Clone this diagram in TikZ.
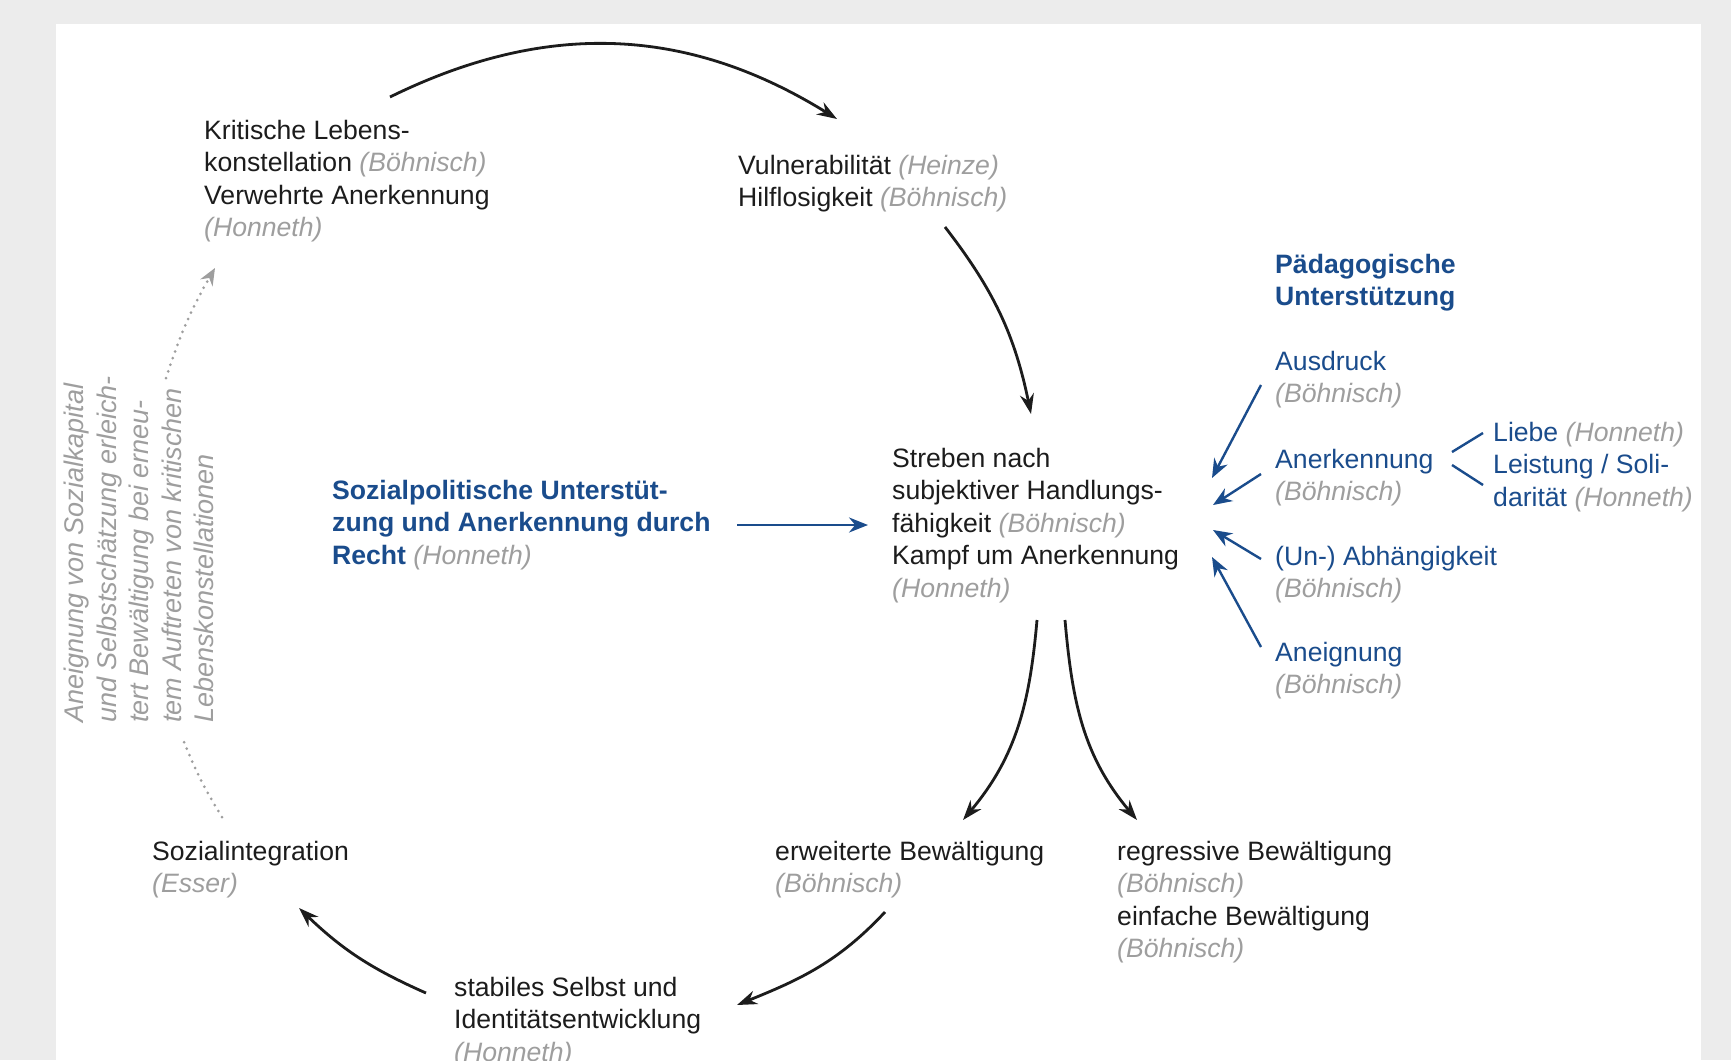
\documentclass[tikz,border=0pt]{standalone}
\usepackage{fontspec}
\setmainfont{Liberation Sans}
\usetikzlibrary{arrows.meta}
\definecolor{pagegray}{RGB}{236,236,236}
\definecolor{citegray}{RGB}{158,158,158}
\definecolor{txtblack}{RGB}{28,28,28}
\definecolor{ubblue}{RGB}{26,76,140}
\newcommand{\src}[1]{{\normalfont\itshape\color{citegray}#1}}
\begin{document}
\begin{tikzpicture}[x=1pt,y=1pt]
        \tikzstyle{txtbox}=[anchor=north west,inner sep=0pt,align=left,text=txtblack,font=\fontsize{26.6}{32.5}\selectfont,execute at begin node=\strut]
        \tikzstyle{bluebox}=[txtbox,text=ubblue]
        \tikzstyle{boldbox}=[txtbox,text=ubblue,font=\fontsize{26.6}{32.5}\selectfont\bfseries]
        \tikzstyle{sidebox}=[anchor=north west,inner sep=0pt,align=left,rotate=90,text=citegray,font=\fontsize{27}{32.5}\selectfont\itshape,execute at begin node=\strut]
        \tikzstyle{cyclearr}=[draw=txtblack,line width=2.8pt,-{Stealth[length=20pt,width=14pt]}]
        \tikzstyle{bluearr}=[draw=ubblue,line width=2.4pt,-{Stealth[length=19pt,width=15pt]}]
        \tikzstyle{bluefork}=[draw=ubblue,line width=2.4pt]
        \tikzstyle{backarr}=[draw=citegray,line width=3pt,line cap=round,dash pattern=on 0pt off 7pt,-{Stealth[length=17pt,width=14pt]}]
        \useasboundingbox (0,0) rectangle (1731,-1060);
        \fill[pagegray] (0,0) rectangle (1731,-1060);
        \fill[white] (56,-24) rectangle (1701,-1060);
        \begin{scope}
                \node [txtbox] (krit) at (204,-120) {Kritische Lebens-\\konstellation \src{(Böhnisch)}\\Verwehrte Anerkennung\\\src{(Honneth)}};
                \node [txtbox] (vuln) at (738,-155) {Vulnerabilität \src{(Heinze)}\\Hilflosigkeit \src{(Böhnisch)}};
                \node [boldbox] (paed) at (1275,-254) {Pädagogische\\Unterstützung};
                \node [bluebox] (ausd) at (1275,-351) {Ausdruck\\\src{(Böhnisch)}};
                \node [bluebox] (anerk) at (1275,-449) {Anerkennung\\\src{(Böhnisch)}};
                \node [bluebox] (liebe) at (1493,-422) {Liebe \src{(Honneth)}\\Leistung / Soli-\\darität \src{(Honneth)}};
                \node [bluebox] (abh) at (1275,-546) {(Un-) Abhängigkeit\\\src{(Böhnisch)}};
                \node [bluebox] (aneig) at (1275,-642) {Aneignung\\\src{(Böhnisch)}};
                \node [txtbox] (streb) at (892,-448) {Streben nach\\subjektiver Handlungs-\\fähigkeit \src{(Böhnisch)}\\Kampf um Anerkennung\\\src{(Honneth)}};
                \node [boldbox] (sozpol) at (332,-480) {Sozialpolitische Unterstüt-\\zung und Anerkennung durch\\Recht \src{(Honneth)}};
                \node [txtbox] (sozint) at (152,-841) {Sozialintegration\\\src{(Esser)}};
                \node [txtbox] (erw) at (775,-841) {erweiterte Bewältigung\\\src{(Böhnisch)}};
                \node [txtbox] (regr) at (1117,-841) {regressive Bewältigung\\\src{(Böhnisch)}\\einfache Bewältigung\\\src{(Böhnisch)}};
                \node [txtbox] (stab) at (454,-977) {stabiles Selbst und\\Identitätsentwicklung\\\src{(Honneth)}};
                \node [sidebox] (side) at (64,-723) {Aneignung von Sozialkapital\\und Selbstschätzung erleich-\\tert Bewältigung bei erneu-\\tem Auftreten von kritischen\\Lebenskonstellationen};

                \path[cyclearr] ([xshift=186pt,yshift=23pt]krit.north west) to[bend left=29] ([xshift=99pt,yshift=36pt]vuln.north west);
                \path[cyclearr] ([xshift=207pt,yshift=-72pt]vuln.north west) to[bend left=13] ([xshift=139pt,yshift=34pt]streb.north west);
                \path[cyclearr] ([xshift=145pt,yshift=-172pt]streb.north west) to[out=-95,in=50] ([xshift=188pt,yshift=21pt]erw.north west);
                \path[cyclearr] ([xshift=173pt,yshift=-172pt]streb.north west) to[out=-85,in=130] ([xshift=20pt,yshift=21pt]regr.north west);
                \path[cyclearr] ([xshift=110pt,yshift=-71pt]erw.north west) to[out=-133,in=22] ([xshift=283pt,yshift=-28pt]stab.north west);
                \path[cyclearr] ([xshift=-28pt,yshift=-16pt]stab.north west) to[bend left=10] ([xshift=147pt,yshift=-67pt]sozint.north west);
                \path[backarr,-] ([xshift=70pt,yshift=24pt]sozint.north west) to[bend left=5] ([xshift=118pt,yshift=-14pt]side.north west);
                \path[backarr] ([xshift=102pt,yshift=345pt]side.north west) to[bend left=6] ([xshift=11pt,yshift=-148pt]krit.north west);

                \path[bluearr] ([xshift=405pt,yshift=-45pt]sozpol.north west) -- ([xshift=-24pt,yshift=-77pt]streb.north west);
                \path[bluearr] ([xshift=-14pt,yshift=-34pt]ausd.north west) -- ([xshift=320pt,yshift=-30pt]streb.north west);
                \path[bluearr] ([xshift=-14pt,yshift=-25pt]anerk.north west) -- ([xshift=321pt,yshift=-57pt]streb.north west);
                \path[bluearr] ([xshift=-14pt,yshift=-13pt]abh.north west) -- ([xshift=321pt,yshift=-82pt]streb.north west);
                \path[bluearr] ([xshift=-14pt,yshift=-5pt]aneig.north west) -- ([xshift=320pt,yshift=-109pt]streb.north west);
                \path[bluefork] ([xshift=177pt,yshift=-3pt]anerk.north west) -- ([xshift=-10pt,yshift=-11pt]liebe.north west);
                \path[bluefork] ([xshift=177pt,yshift=-16pt]anerk.north west) -- ([xshift=-10pt,yshift=-63pt]liebe.north west);
        \end{scope}
\end{tikzpicture}
\end{document}
